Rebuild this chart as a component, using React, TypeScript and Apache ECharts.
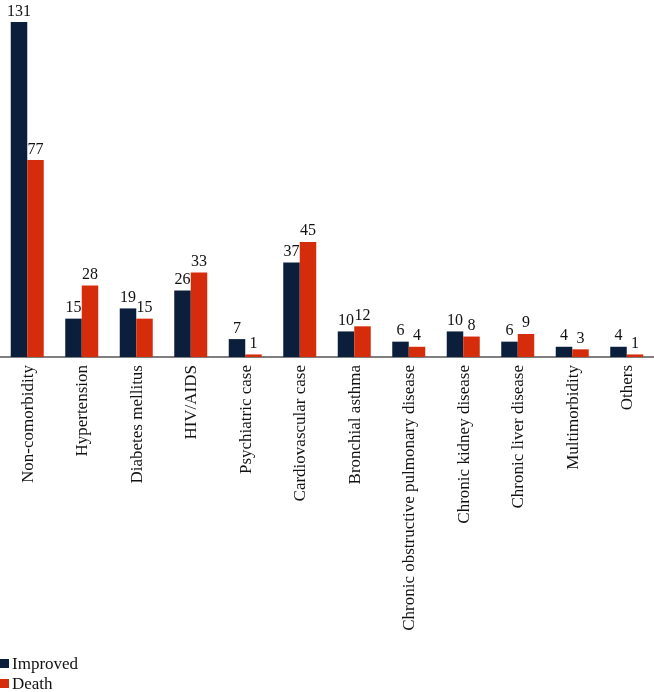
import React, { useEffect, useRef } from "react";
import * as echarts from "echarts";

const categories = [
  "Non-comorbidity",
  "Hypertension",
  "Diabetes mellitus",
  "HIV/AIDS",
  "Psychiatric case",
  "Cardiovascular case",
  "Bronchial asthma",
  "Chronic obstructive pulmonary disease",
  "Chronic kidney disease",
  "Chronic liver disease",
  "Multimorbidity",
  "Others",
];
const improved = [131, 15, 19, 26, 7, 37, 10, 6, 10, 6, 4, 4];
const death = [77, 28, 15, 33, 1, 45, 12, 4, 8, 9, 3, 1];

const FONT = "Liberation Serif";

export default function App() {
  const ref = useRef<HTMLDivElement>(null);
  useEffect(() => {
    if (!ref.current) return;
    const chart = echarts.init(ref.current, null, { renderer: "svg" });
    const label = {
      show: true,
      position: "top",
      distance: 4,
      color: "#111",
      fontFamily: FONT,
      fontSize: 16,
    };
    chart.setOption({
      animation: false,
      textStyle: { fontFamily: FONT },
      grid: { left: 0, right: 0, top: 22, bottom: 335, containLabel: false },
      legend: {
        orient: "vertical",
        left: 0,
        bottom: 0,
        itemWidth: 9,
        itemHeight: 9,
        itemGap: 3,
        icon: "rect",
        textStyle: { fontFamily: FONT, fontSize: 17, color: "#111", padding: [0, 0, 0, -2] },
        padding: [0, 0, 0, 0],
        data: ["Improved", "Death"],
      },
      xAxis: {
        type: "category",
        data: categories,
        axisLine: { lineStyle: { color: "#555", width: 1.5 } },
        axisTick: { show: false },
        axisLabel: {
          rotate: 90,
          interval: 0,
          margin: 8,
          color: "#111",
          fontFamily: FONT,
          fontSize: 17,
        },
      },
      yAxis: {
        type: "value",
        min: 0,
        max: 131,
        show: false,
        splitLine: { show: false },
      },
      series: [
        {
          name: "Improved",
          type: "bar",
          data: improved,
          barWidth: 16.5,
          barGap: "0%",
          itemStyle: { color: "#0b1f3c" },
          label,
        },
        {
          name: "Death",
          type: "bar",
          data: death,
          barWidth: 16.5,
          itemStyle: { color: "#d52d0c" },
          label,
        },
      ],
    });
    return () => chart.dispose();
  }, []);
  return (
    <div
      ref={ref}
      style={{ position: "fixed", left: 0, top: 0, width: 654, height: 692 }}
    />
  );
}
